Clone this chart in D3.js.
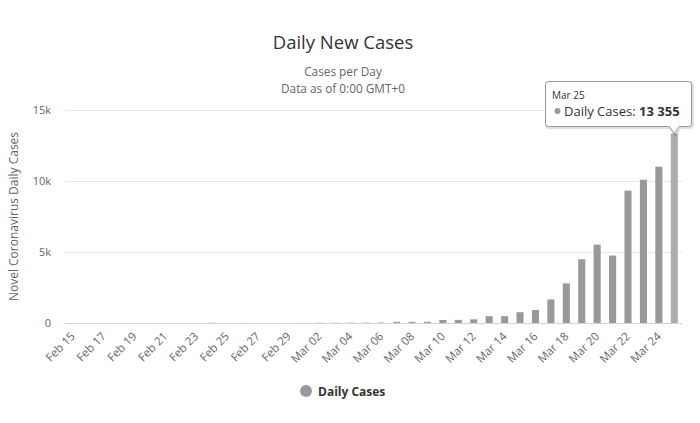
<!DOCTYPE html>
<html>
<head>
<meta charset="utf-8">
<script src="https://cdn.jsdelivr.net/npm/d3@7/dist/d3.min.js"></script>
<style>
  html, body { margin: 0; padding: 0; background: #fff; }
  svg { display: block; font-family: "Open Sans", "DejaVu Sans", sans-serif; }
</style>
</head>
<body>
<svg id="chart" width="700" height="423"></svg>
<script>
// ---- data ----
const categories = [
  "Feb 15","Feb 16","Feb 17","Feb 18","Feb 19","Feb 20","Feb 21","Feb 22","Feb 23","Feb 24",
  "Feb 25","Feb 26","Feb 27","Feb 28","Feb 29","Mar 01","Mar 02","Mar 03","Mar 04","Mar 05",
  "Mar 06","Mar 07","Mar 08","Mar 09","Mar 10","Mar 11","Mar 12","Mar 13","Mar 14","Mar 15",
  "Mar 16","Mar 17","Mar 18","Mar 19","Mar 20","Mar 21","Mar 22","Mar 23","Mar 24","Mar 25"
];
const dailyCases = [
  0, 0, 0, 0, 0, 0, 2, 0, 0, 18,
  0, 6, 1, 1, 6, 8, 15, 15, 20, 25,
  30, 80, 80, 80, 210, 220, 260, 480, 480, 760,
  920, 1660, 2790, 4490, 5520, 4750, 9320, 10090, 11010, 13355
];
const tickLabels = ["Feb 15","Feb 17","Feb 19","Feb 21","Feb 23","Feb 25","Feb 27","Feb 29",
  "Mar 02","Mar 04","Mar 06","Mar 08","Mar 10","Mar 12","Mar 14","Mar 16","Mar 18","Mar 20","Mar 22","Mar 24"];
const yTicks = [0, 5000, 10000, 15000];
const subtitleLines = ["Cases per Day", "Data as of 0:00 GMT+0"];
const seriesName = "Daily Cases";
const highlighted = "Mar 25";

// ---- layout ----
const svg = d3.select("#chart");
const plot = { left: 65, right: 682, top: 110, bottom: 323 };

const x = d3.scaleBand().domain(categories).range([plot.left, plot.right]).paddingInner(0.54).paddingOuter(0.27);
const y = d3.scaleLinear().domain([0, 15000]).range([plot.bottom, plot.top]);

// title / subtitle
svg.append("text").attr("x", 343).attr("y", 49).attr("text-anchor", "middle")
  .attr("font-size", 18.5).attr("fill", "#333").text("Daily New Cases");
subtitleLines.forEach((s, i) => {
  svg.append("text").attr("x", 343).attr("y", 76 + i * 16.5).attr("text-anchor", "middle")
    .attr("font-size", 11.8).attr("fill", "#666").text(s);
});

// gridlines
const yAxis = d3.axisLeft(y).tickValues(yTicks)
  .tickFormat(d => d === 0 ? "0" : (d / 1000) + "k")
  .tickSize(-(plot.right - plot.left)).tickPadding(14);
const gy = svg.append("g").attr("transform", `translate(${plot.left},0)`).call(yAxis);
gy.select(".domain").remove();
gy.selectAll(".tick line").attr("stroke", "#e6e6e6").attr("stroke-width", 1);
gy.selectAll(".tick text").attr("fill", "#666").attr("font-size", 11)
  .attr("font-family", "\"Open Sans\", sans-serif");

// y axis title
svg.append("text")
  .attr("transform", `translate(18,${(plot.top + plot.bottom) / 2}) rotate(-90)`)
  .attr("text-anchor", "middle").attr("font-size", 12).attr("fill", "#666")
  .text("Novel Coronavirus Daily Cases");

// bars
svg.append("g").selectAll("rect").data(categories).join("rect")
  .attr("x", d => x(d))
  .attr("width", x.bandwidth())
  .attr("y", (d, i) => y(dailyCases[i]))
  .attr("height", (d, i) => y(0) - y(dailyCases[i]))
  .attr("fill", d => d === highlighted ? "#adadad" : "#999999");

// x axis
const xAxis = d3.axisBottom(x).tickValues(tickLabels).tickSize(0).tickPadding(0);
const gx = svg.append("g").attr("transform", `translate(0,${plot.bottom})`).call(xAxis);
gx.select(".domain").attr("stroke", "#ccd6eb").attr("d", `M${plot.left},0.5H${plot.right}`);
gx.selectAll(".tick text")
  .attr("fill", "#666").attr("font-size", 11.5)
  .attr("font-family", "\"Open Sans\", sans-serif")
  .attr("text-anchor", "end")
  .attr("dy", null).attr("y", 0)
  .attr("transform", "translate(3,14) rotate(-45)");

// legend
svg.append("circle").attr("cx", 306).attr("cy", 391).attr("r", 6).attr("fill", "#999");
svg.append("text").attr("x", 318).attr("y", 395.5).attr("font-size", 12).attr("font-weight", "bold")
  .attr("fill", "#333").text(seriesName);

// tooltip
const hi = categories.indexOf(highlighted);
const px = x(highlighted) + x.bandwidth() / 2;
const py = y(dailyCases[hi]);
const tip = { x0: 545.5, x1: 691.5, y0: 81.5, y1: 126.5 };
const tipPath = `M${tip.x0 + 3},${tip.y0} H${tip.x1 - 3} Q${tip.x1},${tip.y0} ${tip.x1},${tip.y0 + 3} V${tip.y1 - 3} Q${tip.x1},${tip.y1} ${tip.x1 - 3},${tip.y1} H${px + 5} L${px},${py} L${px - 5},${tip.y1} H${tip.x0 + 3} Q${tip.x0},${tip.y1} ${tip.x0},${tip.y1 - 3} V${tip.y0 + 3} Q${tip.x0},${tip.y0} ${tip.x0 + 3},${tip.y0} Z`;
svg.append("path").attr("d", tipPath).attr("transform", "translate(1,1)")
  .attr("fill", "none").attr("stroke", "#000").attr("stroke-opacity", 0.12).attr("stroke-width", 3);
svg.append("path").attr("d", tipPath).attr("fill", "#fff").attr("fill-opacity", 0.92)
  .attr("stroke", "#999").attr("stroke-width", 1);
svg.append("text").attr("x", 552).attr("y", 99).attr("font-size", 10).attr("fill", "#333").text(highlighted);
svg.append("circle").attr("cx", 557.5).attr("cy", 111).attr("r", 3).attr("fill", "#999");
const t2 = svg.append("text").attr("x", 564).attr("y", 115.5).attr("font-size", 13).attr("fill", "#333");
t2.append("tspan").text(seriesName + ": ");
t2.append("tspan").attr("font-weight", "bold").text(d3.format(",")(dailyCases[hi]).replace(/,/g, " "));
</script>
</body>
</html>
